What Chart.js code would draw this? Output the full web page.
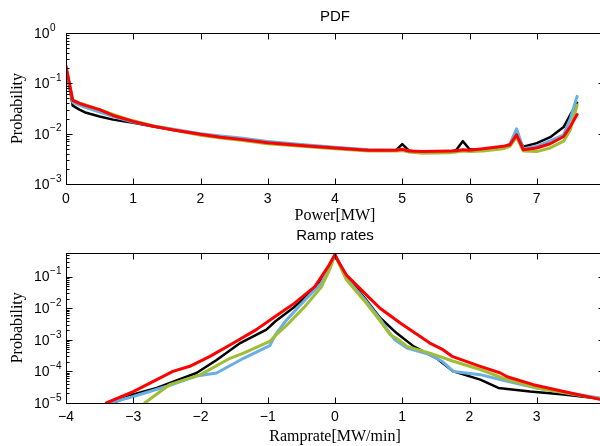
<!DOCTYPE html>
<html><head><meta charset="utf-8">
<script src="https://cdn.jsdelivr.net/npm/chart.js@4"></script>
<style>
html,body{margin:0;padding:0;background:#fff;overflow:hidden;width:600px;height:446px;}
#wrap{position:relative;width:600px;height:446px;overflow:hidden;background:#fff;}
canvas{position:absolute;left:0;}
#c1{top:0;}
#c2{top:223px;}
</style></head><body>
<div id="wrap"><canvas id="c1" width="620" height="240"></canvas><canvas id="c2" width="620" height="223"></canvas></div>
<script>
// ---------- data: PDF panel ----------
const powerX = [0, 0.1, 0.2, 0.3, 0.5, 0.7, 1.0, 1.3, 1.6, 2.0, 2.3, 2.6, 3.0, 3.5, 4.0, 4.5, 4.9, 5.0, 5.1, 5.3, 5.7, 5.8, 5.9, 6.0, 6.2, 6.5, 6.6, 6.7, 6.8, 7.0, 7.2, 7.4, 7.5, 7.6];
const pdfBlack = [0.20, 0.036, 0.030, 0.026, 0.022, 0.019, 0.0165, 0.0138, 0.0118, 0.0097, 0.0087, 0.0078, 0.0068, 0.0059, 0.0053, 0.0047, 0.0046, 0.0062, 0.0046, 0.0043, 0.0044, 0.0047, 0.0071, 0.0049, 0.0047, 0.0054, 0.0058, 0.0100, 0.0055, 0.0065, 0.0085, 0.0135, 0.024, 0.041];
const pdfBlue  = [0.21, 0.042, 0.037, 0.033, 0.027, 0.022, 0.0170, 0.0142, 0.0122, 0.0100, 0.0090, 0.0082, 0.0070, 0.0061, 0.0054, 0.0048, 0.0047, 0.0048, 0.0045, 0.0043, 0.0044, 0.0045, 0.0047, 0.0046, 0.0047, 0.0054, 0.0062, 0.0125, 0.0050, 0.0056, 0.0072, 0.0095, 0.020, 0.055];
const pdfGreen = [0.20, 0.047, 0.041, 0.037, 0.030, 0.024, 0.0180, 0.0143, 0.0118, 0.0093, 0.0082, 0.0074, 0.0063, 0.0056, 0.0050, 0.0045, 0.0045, 0.0046, 0.0043, 0.0041, 0.0042, 0.0043, 0.0045, 0.0044, 0.0045, 0.0050, 0.0056, 0.0085, 0.0045, 0.0044, 0.0052, 0.0071, 0.012, 0.037];
const pdfRed   = [0.22, 0.046, 0.040, 0.036, 0.030, 0.023, 0.0175, 0.0140, 0.0118, 0.0097, 0.0085, 0.0077, 0.0066, 0.0058, 0.0052, 0.0047, 0.0047, 0.0049, 0.0045, 0.0044, 0.0045, 0.0046, 0.0048, 0.0047, 0.0050, 0.0056, 0.0060, 0.0095, 0.0048, 0.0052, 0.0063, 0.0088, 0.014, 0.024];
const pdfExponents = [0, -1, -2, -3];

// ---------- data: Ramp rates panel ----------
const rampXBlack = [-3.30, -3.0, -2.65, -2.06, -1.76, -1.41, -1.02, -0.89, -0.60, -0.30, -0.10, 0, 0.17, 0.45, 0.67, 0.92, 1.17, 1.51, 1.76, 2.16, 2.43, 2.90, 3.40, 3.89];
const rampBlack  = [1e-5, 1.86e-5, 3.0e-5, 8.9e-5, 2.3e-4, 7.9e-4, 2.1e-3, 3.8e-3, 0.0112, 0.043, 0.186, 0.50, 0.100, 0.020, 5.0e-3, 1.6e-3, 6.2e-4, 2.6e-4, 1.0e-4, 5.5e-5, 3.0e-5, 2.3e-5, 1.86e-5, 1.4e-5];
const rampXBlue  = [-3.35, -3.0, -2.5, -2.06, -1.76, -1.36, -0.97, -0.89, -0.74, -0.45, -0.20, 0, 0.17, 0.45, 0.67, 0.80, 0.89, 1.07, 1.41, 1.59, 1.76, 2.16, 2.56, 3.0, 3.94];
const rampBlue   = [1e-5, 1.6e-5, 3.4e-5, 7.1e-5, 8.9e-5, 2.6e-4, 6.5e-4, 1.4e-3, 3.8e-3, 0.018, 0.062, 0.50, 0.089, 0.018, 4.5e-3, 1.8e-3, 1.0e-3, 5.5e-4, 3.4e-4, 2.1e-4, 1.0e-4, 7.9e-5, 4.9e-5, 3.0e-5, 1.45e-5];
const rampXGreen = [-2.83, -2.46, -2.0, -1.56, -1.36, -0.97, -0.88, -0.74, -0.45, -0.20, -0.07, 0, 0.17, 0.45, 0.67, 0.82, 0.92, 1.07, 1.41, 1.76, 2.16, 2.56, 3.0, 3.94];
const rampGreen  = [1e-5, 3.8e-5, 7.9e-5, 2.6e-4, 3.8e-4, 8.9e-4, 1.4e-3, 2.6e-3, 0.0112, 0.048, 0.186, 0.48, 0.079, 0.0158, 4.0e-3, 1.45e-3, 1.1e-3, 6.2e-4, 3.8e-4, 2.1e-4, 1.15e-4, 5.5e-5, 3.0e-5, 1.35e-5];
const rampXRed   = [-3.40, -3.0, -2.65, -2.41, -2.16, -1.86, -1.51, -1.17, -0.89, -0.60, -0.30, -0.10, 0, 0.05, 0.17, 0.47, 0.67, 0.97, 1.41, 1.59, 1.74, 2.16, 2.46, 2.56, 2.95, 3.40, 3.94];
const rampRed    = [1e-5, 2.3e-5, 5.5e-5, 1.0e-4, 1.45e-4, 3.0e-4, 7.9e-4, 2.1e-3, 5.5e-3, 0.0145, 0.048, 0.21, 0.50, 0.30, 0.112, 0.026, 0.010, 3.4e-3, 7.9e-4, 5.1e-4, 3.0e-4, 1.45e-4, 8.9e-5, 6.8e-5, 3.8e-5, 2.3e-5, 1.3e-5];
const rampExponents = [-1, -2, -3, -4, -5];

// ---------- styling ----------
const SANS = "'Liberation Sans', Arial, sans-serif";
const SERIF = "'Liberation Serif', 'Times New Roman', serif";
const C_BLACK = '#000000', C_BLUE = '#6aafe2', C_GREEN = '#a0be34', C_RED = '#ff0000';

function series(xs, ys, color, w) {
  return { data: xs.map((x, i) => ({ x: x, y: ys[i] })), borderColor: color, borderWidth: w,
           pointRadius: 0, tension: 0, fill: false, clip: 0, borderJoinStyle: 'round', borderCapStyle: 'round' };
}
function fmt(v) { return v < 0 ? '\u2212' + Math.abs(v) : String(v); }

function framePlugin(exps) {
  return {
    id: 'frame',
    afterDatasetsDraw(chart) {
      const { ctx, chartArea: a, scales: { x, y } } = chart;
      ctx.save();
      ctx.strokeStyle = '#000'; ctx.lineWidth = 1;
      const L = Math.round(a.left) + 0.5, T = Math.round(a.top) + 0.5, R = Math.round(a.right) + 0.5, B = Math.round(a.bottom) + 0.5;
      ctx.strokeRect(L, T, R - L, B - T);
      ctx.beginPath();
      x.ticks.forEach(t => {
        const px = Math.round(x.getPixelForValue(t.value)) + 0.5;
        ctx.moveTo(px, B); ctx.lineTo(px, B - 6);
        ctx.moveTo(px, T); ctx.lineTo(px, T + 6);
      });
      const lo = Math.floor(Math.log10(y.min)), hi = Math.ceil(Math.log10(y.max));
      for (let e = lo; e <= hi; e++) {
        for (let k = 1; k <= 9; k++) {
          const v = k * Math.pow(10, e);
          if (v < y.min * 0.999 || v > y.max * 1.001) continue;
          const py = Math.round(y.getPixelForValue(v)) + 0.5;
          const len = k === 1 ? 6 : 3;
          ctx.moveTo(L, py); ctx.lineTo(L + len, py);
          ctx.moveTo(R, py); ctx.lineTo(R - len, py);
        }
      }
      ctx.stroke();
      ctx.fillStyle = '#000'; ctx.textBaseline = 'middle'; ctx.textAlign = 'left';
      exps.forEach(e => {
        const py = y.getPixelForValue(Math.pow(10, e));
        ctx.font = '14px ' + SANS;
        ctx.fillText('10', 34, py + 1);
        const w = ctx.measureText('10').width;
        ctx.font = '10px ' + SANS;
        ctx.fillText(e === 0 ? '0' : '\u2212' + Math.abs(e), 34 + w + 0.5, py - 5);
      });
      ctx.restore();
    }
  };
}

function makeChart(id, datasets, opt) {
  return new Chart(document.getElementById(id), {
    type: 'line',
    data: { datasets: datasets },
    options: {
      responsive: false, animation: false, devicePixelRatio: 1,
      layout: { padding: { top: 0, left: 0, right: 16, bottom: 0 } },
      plugins: {
        legend: { display: false }, tooltip: { enabled: false },
        title: { display: true, text: opt.title, fullSize: false, color: '#000',
                 font: { family: SANS, size: 15, weight: 'normal' }, padding: opt.titlePad }
      },
      scales: {
        x: { type: 'linear', min: opt.xmin, max: opt.xmax,
             ticks: { stepSize: 1, color: '#000', font: { family: SANS, size: 14 }, padding: opt.tickPad,
                      maxRotation: 0, autoSkip: false, callback: fmt },
             grid: { display: false, drawTicks: false }, border: { display: false },
             title: { display: true, text: opt.xlabel, color: '#000', font: { family: SERIF, size: 16 },
                      padding: { top: 0, bottom: opt.xTitlePad } },
             afterFit(s) { s.height = opt.xh; } },
        y: { type: 'logarithmic', min: opt.ymin, max: opt.ymax,
             ticks: { display: false }, grid: { display: false, drawTicks: false }, border: { display: false },
             title: { display: true, text: 'Probability', color: '#000', font: { family: SERIF, size: 16 },
                      padding: { top: 8, bottom: 0 } },
             afterFit(s) { s.width = 66; } }
      }
    },
    plugins: [framePlugin(opt.exps)]
  });
}

makeChart('c1', [
  series(powerX, pdfRed, C_RED, 3),
  series(powerX, pdfGreen, C_GREEN, 3),
  series(powerX, pdfBlue, C_BLUE, 3),
  series(powerX, pdfBlack, C_BLACK, 2.5)
], { title: 'PDF', titlePad: { top: 8, bottom: 7 }, xmin: 0, xmax: 8, tickPad: 7, xlabel: 'Power[MW]',
     xTitlePad: 15, xh: 56, ymin: 1e-3, ymax: 1, exps: pdfExponents });

makeChart('c2', [
  series(rampXRed, rampRed, C_RED, 3),
  series(rampXGreen, rampGreen, C_GREEN, 3),
  series(rampXBlue, rampBlue, C_BLUE, 3),
  series(rampXBlack, rampBlack, C_BLACK, 2.5)
], { title: 'Ramp rates', titlePad: { top: 4, bottom: 7.5 }, xmin: -4, xmax: 4, tickPad: 6, xlabel: 'Ramprate[MW/min]',
     xTitlePad: 0, xh: 43, ymin: 1e-5, ymax: 0.58, exps: rampExponents });
</script>
</body></html>
